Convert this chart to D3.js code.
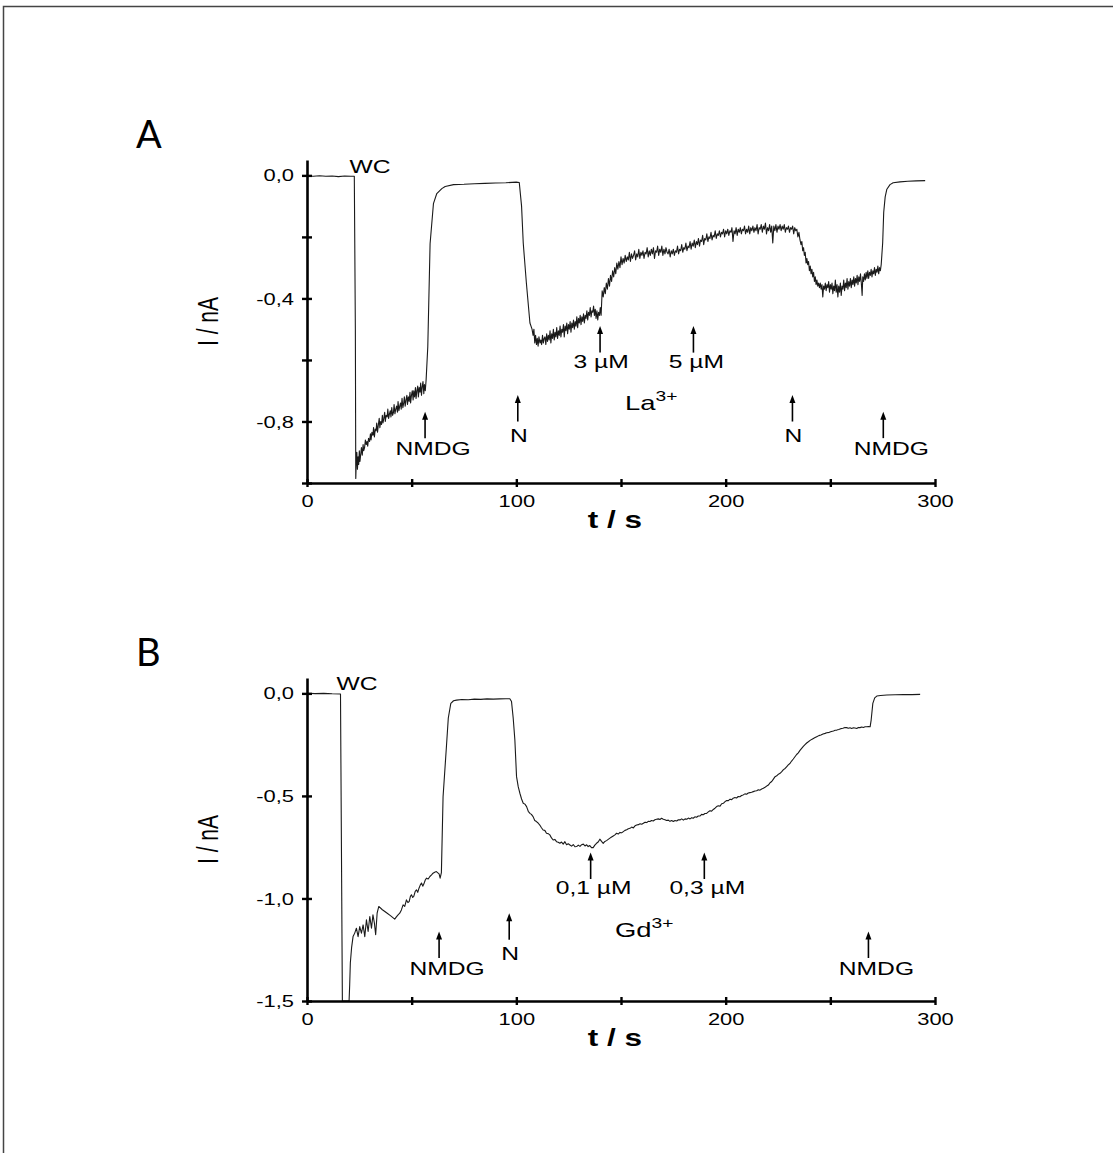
<!DOCTYPE html>
<html>
<head>
<meta charset="utf-8">
<script src="https://cdn.jsdelivr.net/npm/d3@7"></script>
<style>
  html, body { margin: 0; background: #fff; }
  svg { display: block; }
</style>
</head>
<body>
<svg id="fig" width="1113" height="1153"></svg>
<script>
// ---------- data: whole-cell current traces (t in s, I in nA) ----------

// Panel A: La3+ block
const traceA = [
  [0,-0.002],[3,-0.003],[6,-0.001],[9,-0.003],[12,-0.002],[15,-0.004],[18,-0.002],[21,-0.003],[22.6,-0.003],
  [23.1,-0.5],[23.3,-0.985],
  [23.5,-0.94],[23.8,-0.90],[24.1,-0.955],[24.4,-0.915],[24.7,-0.94],[25.0,-0.895],[25.3,-0.93],[25.7,-0.905],
  [26.0,-0.885],[26.4,-0.91],[26.8,-0.875],[27.1,-0.895],[27.5,-0.885],[27.9,-0.86],[28.3,-0.875],[28.7,-0.865],
  [29.0,-0.88],[29.4,-0.855],[29.9,-0.865],[30.3,-0.84],[30.6,-0.86],[31.0,-0.835],[31.5,-0.845],[31.8,-0.82],
  [32.2,-0.85],[32.6,-0.825],[33.0,-0.83],[33.3,-0.805],[33.7,-0.835],[34.1,-0.81],[34.5,-0.79],[34.8,-0.82],
  [35.2,-0.80],[35.6,-0.81],[36.0,-0.78],[36.3,-0.805],[36.7,-0.79],[37.1,-0.77],[37.4,-0.80],[37.8,-0.78],
  [38.3,-0.785],[38.6,-0.76],[39.0,-0.79],[39.4,-0.775],[39.8,-0.765],[40.1,-0.785],[40.5,-0.755],[40.9,-0.78],
  [41.3,-0.77],[41.6,-0.745],[42.0,-0.775],[42.4,-0.76],[42.8,-0.75],[43.2,-0.77],[43.5,-0.735],[43.9,-0.765],
  [44.3,-0.75],[44.7,-0.74],[45.0,-0.76],[45.4,-0.725],[45.8,-0.755],[46.2,-0.74],[46.5,-0.72],[46.9,-0.75],
  [47.3,-0.73],[47.7,-0.715],[48.0,-0.745],[48.4,-0.72],[48.8,-0.735],[49.2,-0.705],[49.5,-0.74],[49.9,-0.715],
  [50.3,-0.70],[50.7,-0.73],[51.0,-0.70],[51.4,-0.72],[51.8,-0.69],[52.1,-0.725],[52.5,-0.70],[52.9,-0.685],
  [53.2,-0.72],[53.6,-0.69],[54.0,-0.705],[54.3,-0.675],[54.7,-0.715],[55.0,-0.69],[55.4,-0.67],[55.8,-0.71],
  [56.1,-0.68],[56.5,-0.70],[56.9,-0.665],
  [57.7,-0.557],[58.8,-0.222],[60.4,-0.092],[62.0,-0.059],[64.4,-0.043],[66,-0.036],
  [70,-0.030],[75,-0.029],[80,-0.027],[85,-0.026],[90,-0.025],[95,-0.024],[100,-0.022],[101.4,-0.023],
  [102.5,-0.10],[103.3,-0.22],[104.8,-0.35],[106.5,-0.48],[107.5,-0.50],[108.0,-0.52],
  [108.4,-0.50],[108.8,-0.545],[109.2,-0.52],[109.6,-0.55],[110.0,-0.53],[110.4,-0.555],[110.8,-0.525],
  [111.3,-0.545],[111.7,-0.535],[112.1,-0.55],[112.5,-0.52],[112.9,-0.545],[113.3,-0.53],[113.7,-0.525],
  [114.1,-0.55],[114.5,-0.515],[114.9,-0.54],[115.3,-0.52],[115.7,-0.535],[116.1,-0.505],[116.5,-0.545],
  [116.9,-0.515],[117.3,-0.53],[117.7,-0.50],[118.1,-0.535],[118.5,-0.51],[118.9,-0.525],[119.3,-0.495],
  [119.7,-0.53],[120.1,-0.505],[120.5,-0.52],[120.9,-0.49],[121.3,-0.525],[121.7,-0.50],[122.1,-0.51],
  [122.5,-0.485],[122.9,-0.525],[123.3,-0.49],[123.7,-0.505],[124.1,-0.48],[124.5,-0.515],[124.9,-0.485],
  [125.3,-0.50],[125.7,-0.475],[126.1,-0.51],[126.5,-0.48],[126.9,-0.495],[127.3,-0.47],[127.7,-0.50],
  [128.1,-0.475],[128.5,-0.49],[128.9,-0.46],[129.3,-0.495],[129.7,-0.465],[130.1,-0.48],[130.5,-0.455],
  [130.9,-0.485],[131.3,-0.46],[131.7,-0.475],[132.1,-0.45],[132.5,-0.48],[132.9,-0.455],[133.3,-0.465],
  [133.7,-0.44],[134.1,-0.47],[134.5,-0.445],[134.9,-0.455],[135.3,-0.43],[135.7,-0.46],[136.1,-0.44],
  [136.5,-0.445],[136.9,-0.425],[137.3,-0.455],[137.7,-0.435],[138.1,-0.465],[138.5,-0.44],[138.9,-0.47],
  [139.3,-0.445],[139.7,-0.455],[140.1,-0.43],[140.5,-0.455],
  [141.0,-0.375],[141.5,-0.395],[142.0,-0.365],[142.5,-0.385],[143.0,-0.35],[143.5,-0.37],[144.0,-0.335],
  [144.5,-0.36],[145.0,-0.325],[145.5,-0.345],[146.0,-0.31],[146.5,-0.33],[147.0,-0.30],[147.5,-0.32],
  [148.0,-0.285],[148.5,-0.305],[149.0,-0.28],[149.5,-0.30],[150.0,-0.265],[150.5,-0.29],[151.0,-0.27],
  [151.5,-0.285],[152.0,-0.26],[152.5,-0.28],[153.0,-0.265],[153.5,-0.275],[154.0,-0.25],[154.5,-0.28],
  [155.0,-0.255],[155.5,-0.27],[156.0,-0.26],[156.5,-0.245],[157.0,-0.275],[157.5,-0.255],[158.0,-0.265],
  [158.5,-0.24],[159.0,-0.27],[159.5,-0.25],[160.0,-0.26],[160.5,-0.245],[161.0,-0.27],[161.5,-0.25],
  [162.0,-0.255],[162.5,-0.235],[163.0,-0.265],[163.5,-0.245],[164.0,-0.26],[164.5,-0.24],[165.0,-0.255],
  [165.5,-0.235],[166.0,-0.27],[166.5,-0.245],[167.0,-0.25],[167.5,-0.23],[168.0,-0.26],[168.5,-0.24],
  [169.0,-0.25],[169.5,-0.23],[170.0,-0.26],[170.5,-0.24],[171.0,-0.255],[171.5,-0.235],[172.0,-0.25],
  [172.5,-0.255],[173.0,-0.24],[173.5,-0.265],[174.0,-0.245],[174.5,-0.255],[175.0,-0.24],[175.5,-0.26],
  [176.0,-0.245],[176.5,-0.25],[177.0,-0.23],[177.5,-0.255],[178.0,-0.24],[178.5,-0.245],[179.0,-0.225],
  [179.5,-0.25],[180.0,-0.235],[180.5,-0.24],[181.0,-0.22],[181.5,-0.245],[182.0,-0.23],[182.5,-0.235],
  [183.0,-0.215],[183.5,-0.24],[184.0,-0.22],[184.5,-0.23],[185.0,-0.21],[185.5,-0.235],[186.0,-0.215],
  [186.5,-0.225],[187.0,-0.205],[187.5,-0.23],[188.0,-0.21],[188.5,-0.215],[189.0,-0.195],[189.5,-0.225],
  [190.0,-0.205],[190.5,-0.21],[191.0,-0.19],[191.5,-0.215],[192.0,-0.20],[192.5,-0.205],[193.0,-0.185],
  [193.5,-0.21],[194.0,-0.195],[194.5,-0.20],[195.0,-0.18],[195.5,-0.205],[196.0,-0.19],[196.5,-0.195],
  [197.0,-0.18],[197.5,-0.20],[198.0,-0.185],[198.5,-0.19],[199.0,-0.175],[199.5,-0.20],[200.0,-0.18],
  [200.5,-0.19],[201.0,-0.175],[201.5,-0.195],[202.0,-0.18],[202.5,-0.185],[203.0,-0.17],[203.5,-0.215],
  [204.0,-0.18],[204.5,-0.19],[205.0,-0.17],[205.5,-0.195],[206.0,-0.175],[206.5,-0.185],[207.0,-0.17],
  [207.5,-0.19],[208.0,-0.175],[208.5,-0.18],[209.0,-0.165],[209.5,-0.19],[210.0,-0.175],[210.5,-0.185],
  [211.0,-0.165],[211.5,-0.19],[212.0,-0.17],[212.5,-0.18],[213.0,-0.165],[213.5,-0.185],[214.0,-0.17],
  [214.5,-0.18],[215.0,-0.16],[215.5,-0.19],[216.0,-0.17],[216.5,-0.175],[217.0,-0.16],[217.5,-0.185],
  [218.0,-0.165],[218.5,-0.175],[219.0,-0.155],[219.5,-0.19],[220.0,-0.17],[220.5,-0.18],[221.0,-0.16],
  [221.5,-0.185],[222.0,-0.165],[222.5,-0.22],[223.0,-0.165],[223.5,-0.18],[224.0,-0.16],[224.5,-0.185],
  [225.0,-0.165],[225.5,-0.175],[226.0,-0.16],[226.5,-0.18],[227.0,-0.165],[227.5,-0.175],[228.0,-0.16],
  [228.5,-0.185],[229.0,-0.17],[229.5,-0.175],[230.0,-0.165],[230.5,-0.185],[231.0,-0.17],[231.5,-0.175],
  [232.0,-0.165],[232.5,-0.19],[233.0,-0.17],[233.5,-0.18],[234.0,-0.175],[234.5,-0.20],[235.0,-0.185],
  [235.5,-0.21],[236.0,-0.225],[236.4,-0.215],[236.8,-0.245],[237.2,-0.235],[237.6,-0.26],[238.0,-0.25],
  [238.4,-0.285],[238.8,-0.27],[239.2,-0.29],[239.6,-0.28],[240.0,-0.31],[240.4,-0.295],[240.8,-0.32],
  [241.2,-0.305],[241.6,-0.33],[242.0,-0.315],[242.4,-0.345],[242.8,-0.33],[243.2,-0.355],[243.6,-0.34],
  [244.0,-0.36],[244.4,-0.35],[244.8,-0.365],
  [245.2,-0.35],[245.6,-0.37],[246.0,-0.355],[246.4,-0.395],[246.8,-0.36],[247.2,-0.37],[247.6,-0.35],
  [248.0,-0.375],[248.4,-0.355],[248.8,-0.365],[249.2,-0.345],[249.6,-0.38],[250.0,-0.355],[250.4,-0.37],
  [250.8,-0.35],[251.2,-0.385],[251.6,-0.36],[252.0,-0.375],[252.4,-0.34],[252.8,-0.38],[253.2,-0.355],
  [253.6,-0.395],[254.0,-0.36],[254.4,-0.38],[254.8,-0.35],[255.2,-0.39],[255.6,-0.36],[256.0,-0.37],
  [256.4,-0.34],[256.8,-0.375],[257.2,-0.35],[257.6,-0.365],[258.0,-0.335],[258.4,-0.37],[258.8,-0.345],
  [259.2,-0.36],[259.6,-0.335],[260.0,-0.365],[260.4,-0.34],[260.8,-0.355],[261.2,-0.33],[261.6,-0.36],
  [262.0,-0.335],[262.4,-0.35],[262.8,-0.325],[263.2,-0.355],[263.6,-0.33],[264.0,-0.345],[264.4,-0.32],
  [264.8,-0.35],[265.2,-0.39],[265.5,-0.33],[265.9,-0.345],[266.3,-0.32],[266.7,-0.34],[267.1,-0.315],
  [267.5,-0.335],[267.9,-0.31],[268.3,-0.335],[268.7,-0.315],[269.1,-0.325],[269.5,-0.305],[269.9,-0.33],
  [270.3,-0.31],[270.7,-0.32],[271.1,-0.30],[271.5,-0.325],[271.9,-0.305],[272.3,-0.315],[272.7,-0.295],
  [273.1,-0.32],[273.5,-0.30],[273.9,-0.31],[274.3,-0.29],
  [275.0,-0.22],[275.5,-0.12],[276.2,-0.07],[277.0,-0.045],[278.5,-0.030],
  [280,-0.024],[283.3,-0.021],[287,-0.019],[291,-0.018],[295.3,-0.017]
];

// Panel B: Gd3+ block
const traceB = [
  [0,0.001],[4,-0.001],[8,0.0],[12,-0.002],[16.0,-0.003],[16.9,-1.5],[20.1,-1.5],
  [20.4,-1.42],[20.7,-1.315],[21.3,-1.24],[22.0,-1.186],[22.8,-1.169],[23.6,-1.145],[24.4,-1.186],
  [25.2,-1.137],[26.0,-1.169],[26.8,-1.129],[27.6,-1.186],[28.4,-1.104],[29.2,-1.161],[30.0,-1.088],
  [30.8,-1.145],[31.5,-1.080],[32.2,-1.12],[32.8,-1.177],[33.5,-1.072],[34.3,-1.039],[36,-1.055],
  [38,-1.07],[40,-1.085],[41.9,-1.101],[42.7,-1.09],[43.5,-1.080],[44.3,-1.072],[45.1,-1.056],
  [45.9,-1.031],[46.7,-1.039],[47.5,-1.007],[48.2,-1.02],[48.8,-1.015],[49.4,-0.99],[49.9,-0.982],
  [50.5,-0.995],[51.0,-0.99],[51.7,-0.965],[52.3,-0.958],[52.9,-0.97],[53.5,-0.95],[54.1,-0.935],
  [54.7,-0.925],[55.3,-0.94],[55.8,-0.93],[56.5,-0.91],[57.1,-0.901],[57.9,-0.905],[58.7,-0.893],
  [59.5,-0.885],[60.2,-0.877],[61.0,-0.872],[61.8,-0.869],[62.5,-0.875],[63.1,-0.88],[63.6,-0.901],
  [64.2,-0.874],[65.0,-0.504],[66.6,-0.26],[67.5,-0.12],[68.7,-0.049],[70,-0.036],[71.4,-0.033],
  [74,-0.030],[77,-0.031],[80,-0.028],[83,-0.029],[86,-0.027],[89,-0.028],[92,-0.027],[95,-0.026],
  [96.9,-0.026],[97.7,-0.04],[98.5,-0.12],[99.3,-0.227],[100.1,-0.406],[100.9,-0.455],[101.7,-0.487],
  [102.5,-0.515],[103.3,-0.536],[104.1,-0.54],[104.9,-0.552],[105.7,-0.575],[106.5,-0.585],[107.2,-0.59],
  [108.0,-0.601],[108.8,-0.62],[109.6,-0.625],[110.4,-0.632],[111.2,-0.642],[112.0,-0.655],[112.8,-0.666],
  [113.6,-0.668],[114.4,-0.682],[115.2,-0.684],[116.0,-0.69],[116.8,-0.705],[117.6,-0.715],[118.4,-0.712],
  [119.2,-0.723],[120.0,-0.726],[120.8,-0.731],[121.6,-0.725],[122.4,-0.735],[123.2,-0.723],[124.0,-0.738],
  [124.8,-0.733],[125.6,-0.739],[126.4,-0.745],[127.2,-0.737],[128.0,-0.748],[128.8,-0.747],[129.6,-0.74],
  [130.4,-0.746],[131.2,-0.738],[132.0,-0.735],[132.8,-0.744],[133.6,-0.738],[134.3,-0.747],[135.1,-0.742],
  [135.9,-0.752],[136.7,-0.752],[137.5,-0.74],[138.3,-0.731],[139.1,-0.725],[139.9,-0.711],[140.7,-0.722],
  [141.5,-0.731],[142.3,-0.722],[143.1,-0.718],[143.9,-0.712],[144.7,-0.706],[145.5,-0.70],[146.3,-0.695],
  [147.1,-0.69],[147.9,-0.682],[148.7,-0.686],[149.5,-0.678],[150.3,-0.68],[151.1,-0.674],[151.9,-0.668],
  [152.7,-0.665],[153.5,-0.66],[154.3,-0.658],[155.1,-0.652],[155.9,-0.656],[156.7,-0.646],[157.5,-0.642],
  [158.3,-0.64],[159.1,-0.636],[159.9,-0.638],[160.7,-0.633],[161.5,-0.628],[162.3,-0.63],[163.0,-0.624],
  [163.8,-0.625],[164.6,-0.62],[165.4,-0.622],[166.2,-0.616],[167.0,-0.614],[167.8,-0.612],[168.6,-0.615],
  [169.4,-0.609],[170.2,-0.614],[171.0,-0.616],[171.8,-0.62],[172.6,-0.618],[173.4,-0.624],[174.2,-0.62],
  [175.0,-0.625],[175.8,-0.62],[176.6,-0.622],[177.4,-0.616],[178.2,-0.617],[179.0,-0.612],[179.8,-0.618],
  [180.6,-0.612],[181.4,-0.614],[182.2,-0.608],[183.0,-0.612],[183.8,-0.606],[184.5,-0.609],[185.3,-0.602],
  [186.1,-0.604],[186.9,-0.598],[187.7,-0.598],[188.5,-0.59],[189.3,-0.592],[190.1,-0.586],[190.9,-0.585],
  [191.7,-0.578],[192.5,-0.572],[193.3,-0.574],[194.1,-0.566],[194.9,-0.56],[195.7,-0.552],[196.5,-0.548],
  [197.3,-0.55],[198.1,-0.538],[198.9,-0.536],[199.7,-0.528],[200.5,-0.522],[201.3,-0.523],[202.1,-0.516],
  [202.9,-0.518],[203.6,-0.511],[204.4,-0.508],[205.2,-0.51],[206.0,-0.503],[206.8,-0.504],[207.6,-0.498],
  [208.4,-0.495],[209.2,-0.49],[210.0,-0.492],[210.8,-0.486],[211.6,-0.484],[212.4,-0.482],[213.2,-0.479],
  [214.0,-0.476],[214.8,-0.475],[215.6,-0.47],[216.4,-0.472],[217.2,-0.466],[218.0,-0.463],[218.8,-0.458],
  [219.6,-0.452],[220.4,-0.447],[221.2,-0.436],[222.0,-0.43],[222.8,-0.418],[223.6,-0.406],[224.4,-0.402],
  [225.2,-0.394],[226.0,-0.39],[226.8,-0.382],[227.6,-0.372],[228.4,-0.366],[229.1,-0.358],[229.9,-0.349],
  [230.7,-0.342],[231.5,-0.33],[232.3,-0.32],[233.1,-0.309],[233.9,-0.298],[234.7,-0.29],[235.5,-0.278],
  [236.3,-0.268],[237.1,-0.258],[237.9,-0.25],[238.7,-0.242],[239.5,-0.236],[240.5,-0.228],[241.5,-0.222],
  [242.5,-0.216],[243.5,-0.211],[244.5,-0.206],[245.5,-0.203],[246.5,-0.198],[247.5,-0.195],[248.3,-0.192],
  [249.5,-0.19],[250.5,-0.186],[251.5,-0.183],[252.3,-0.18],[253.1,-0.179],[254.0,-0.176],[255.0,-0.172],
  [256.0,-0.17],[257.0,-0.166],[257.8,-0.167],[258.6,-0.17],[259.4,-0.168],[260.2,-0.171],[261.0,-0.168],
  [261.8,-0.169],[262.6,-0.171],[263.4,-0.166],[264.2,-0.167],[265.0,-0.164],[265.8,-0.166],[266.6,-0.163],
  [267.4,-0.163],[268.2,-0.162],[269.0,-0.163],[269.5,-0.13],[270.3,-0.049],[271.2,-0.022],[272.2,-0.013],
  [274,-0.010],[277,-0.008],[281,-0.007],[285,-0.006],[289,-0.006],[292.9,-0.005]
];

// axis ticks
const timeTicks = [0, 50, 100, 150, 200, 250, 300];
const timeTickLabels = [0, 100, 200, 300];
const currentTicksA = [-1.0, -0.8, -0.6, -0.4, -0.2, 0.0];
const currentTickLabelsA = [-0.8, -0.4, 0.0];
const currentTicksB = [-1.5, -1.0, -0.5, 0.0];
const currentTickLabelsB = [-1.5, -1.0, -0.5, 0.0];

// solution changes (time of application, arrow tip level in nA)
const eventsA = [
  { label: "NMDG", t: 56.4,  tip: -0.768 },
  { label: "N",    t: 100.7, tip: -0.714 },
  { label: "3 µM", t: 140.0, tip: -0.490 },
  { label: "5 µM", t: 184.6, tip: -0.490 },
  { label: "N",    t: 231.9, tip: -0.714 },
  { label: "NMDG", t: 275.3, tip: -0.768 }
];
const eventsB = [
  { label: "NMDG",   t: 63.1,  tip: -1.161 },
  { label: "N",      t: 96.6,  tip: -1.072 },
  { label: "0,1 µM", t: 135.5, tip: -0.776 },
  { label: "0,3 µM", t: 189.8, tip: -0.776 },
  { label: "NMDG",   t: 268.2, tip: -1.161 }
];

// ---------- drawing ----------
const SX = 1.37;                 // horizontal stretch of the lettering
const FONT = "'Liberation Sans', Arial, Helvetica, sans-serif";
const svg = d3.select("#fig");

// outer frame
svg.append("rect")
  .attr("x", 3.5).attr("y", 6.5).attr("width", 1300).attr("height", 1300)
  .attr("fill", "none").attr("stroke", "#444").attr("stroke-width", 1.5);

const fmt = v => v.toFixed(1).replace(".", ",");

function label(g, x, y, str, size, anchor, weight) {
  return g.append("text")
    .attr("transform", `translate(${x},${y}) scale(${SX},1)`)
    .attr("text-anchor", anchor || "middle")
    .attr("font-family", FONT)
    .attr("font-size", size)
    .attr("font-weight", weight || "normal")
    .attr("fill", "#000")
    .text(str);
}

const W = 628, H = 323;

const panels = [
  { letter: "A", left: 307, top: 160, yDomain: [-1.0, 0.05], trace: traceA,
    yTicks: currentTicksA, yLabels: currentTickLabelsA, events: eventsA,
    ion: "La", ionAt: [625 - 307, 410 - 160], wcAt: [370 - 307, 173 - 160] },
  { letter: "B", left: 307, top: 678, yDomain: [-1.5, 0.075], trace: traceB,
    yTicks: currentTicksB, yLabels: currentTickLabelsB, events: eventsB,
    ion: "Gd", ionAt: [615 - 307, 937 - 678], wcAt: [357 - 307, 690 - 678] }
];

// per-label offsets of the event text from its arrow
const textDx = { "NMDG": 8, "N": 1, "3 µM": 1, "5 µM": 3, "0,1 µM": 3, "0,3 µM": 3 };
const textDy = { "NMDG": 17, "N": 20, "3 µM": 15, "5 µM": 15, "0,1 µM": 15, "0,3 µM": 15 };

panels.forEach(p => {
  const g = svg.append("g").attr("transform", `translate(${p.left},${p.top})`);
  const x = d3.scaleLinear().domain([0, 300]).range([0, W]);
  const y = d3.scaleLinear().domain(p.yDomain).range([H, 0]);

  // trace
  const line = d3.line().x(d => x(d[0])).y(d => y(d[1]));
  g.append("path").datum(p.trace)
    .attr("d", line)
    .attr("fill", "none")
    .attr("stroke", "#1a1a1a")
    .attr("stroke-width", 1.1)
    .attr("stroke-linejoin", "round");

  // y axis
  const yAxis = g.append("g")
    .call(d3.axisLeft(y).tickValues(p.yTicks).tickSizeOuter(0)
      .tickFormat(v => p.yLabels.some(l => Math.abs(l - v) < 1e-9) ? fmt(v) : ""));
  // x axis
  const xAxis = g.append("g").attr("transform", `translate(0,${H})`)
    .call(d3.axisBottom(x).tickValues(timeTicks).tickSizeOuter(0)
      .tickFormat(v => timeTickLabels.includes(v) ? String(v) : ""));

  [yAxis, xAxis].forEach(a => {
    a.select(".domain").attr("stroke", "#000").attr("stroke-width", 2.6);
    a.selectAll(".tick line").attr("stroke", "#000").attr("stroke-width", 2.4);
    a.selectAll(".tick text")
      .attr("font-family", FONT).attr("font-size", 16).attr("fill", "#000");
  });
  yAxis.selectAll(".tick line").attr("x1", -5).attr("x2", 5);
  yAxis.selectAll(".tick text")
    .attr("x", null).attr("dy", "0.35em")
    .attr("transform", `translate(-13,0) scale(${SX},1)`);
  xAxis.selectAll(".tick line").attr("y1", -4).attr("y2", 4);
  xAxis.selectAll(".tick text")
    .attr("y", null).attr("dy", null)
    .attr("transform", `translate(0,24) scale(${SX},1)`);

  // axis titles
  g.append("text")
    .attr("transform", `translate(-89,${H / 2}) scale(${SX},1) rotate(-90)`)
    .attr("text-anchor", "middle")
    .attr("font-family", FONT).attr("font-size", 21)
    .text("I / nA");
  label(g, W / 2 - 6, H + 45, "t / s", 23, "middle", "bold");

  // panel letter
  g.append("text")
    .attr("x", -171).attr("y", -12)
    .attr("font-family", "Lato, 'Open Sans', sans-serif")
    .attr("font-size", 38)
    .text(p.letter);

  // whole-cell marker
  label(g, p.wcAt[0], p.wcAt[1], "WC", 18, "middle");

  // blocker ion with superscript charge
  const ion = g.append("text")
    .attr("transform", `translate(${p.ionAt[0]},${p.ionAt[1]}) scale(${SX},1)`)
    .attr("font-family", FONT).attr("font-size", 20);
  ion.append("tspan").text(p.ion);
  ion.append("tspan").attr("font-size", 14).attr("dy", -9).text("3+");

  // solution-change arrows
  p.events.forEach(e => {
    const ax = x(e.t), ty = y(e.tip), len = 26.5;
    g.append("line")
      .attr("x1", ax).attr("x2", ax)
      .attr("y1", ty + 5).attr("y2", ty + len)
      .attr("stroke", "#000").attr("stroke-width", 1.6);
    g.append("path")
      .attr("d", `M${ax},${ty} L${ax - 3},${ty + 8} L${ax + 3},${ty + 8} Z`)
      .attr("fill", "#000");
    label(g, ax + (textDx[e.label] || 0), ty + len + (textDy[e.label] || 16), e.label, 18, "middle");
  });
});
</script>
</body>
</html>
